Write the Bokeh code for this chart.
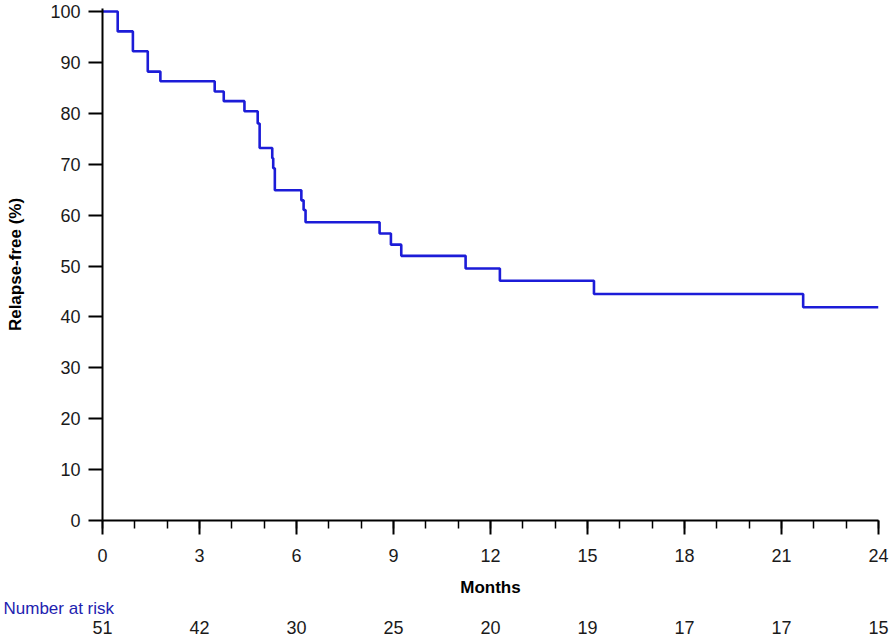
from bokeh.plotting import figure
from bokeh.models import (SingleIntervalTicker, FixedTicker, LinearAxis,
                          Range1d, Title)
from bokeh.embed import file_html
from bokeh.resources import INLINE

# Kaplan-Meier relapse-free estimates (months, % relapse-free after each step)
event_months = [0.0, 0.47, 0.94, 1.40, 1.79, 3.47, 3.75, 4.39, 4.80, 4.86,
                5.25, 5.28, 5.33, 6.15, 6.22, 6.28, 8.57, 8.92, 9.24,
                11.23, 12.29, 15.20, 21.67]
relapse_free = [100.0, 96.1, 92.2, 88.2, 86.3, 84.3, 82.4, 80.4, 78.0, 73.2,
                71.2, 69.2, 64.9, 62.9, 61.0, 58.6, 56.4, 54.2, 52.0,
                49.5, 47.1, 44.5, 41.9]
last_follow_up = 24.0

risk_months = [0, 3, 6, 9, 12, 15, 18, 21, 24]
risk_counts = [51, 42, 30, 25, 20, 19, 17, 17, 15]

FONT = "Liberation Sans"
CURVE = "#1c1cd8"

p = figure(width=890, height=636, output_backend="svg", toolbar_location=None,
           x_range=Range1d(0, 24), y_range=Range1d(0, 100.6),
           min_border_left=102, min_border_right=12, min_border_top=8,
           min_border_bottom=20)
p.outline_line_color = None
p.xgrid.visible = False
p.ygrid.visible = False
p.background_fill_color = "white"

xs = event_months + [last_follow_up]
ys = relapse_free + [relapse_free[-1]]
p.step(xs, ys, mode="after", line_color=CURVE, line_width=2.6)

# axes
xa = p.xaxis[0]
xa.ticker = SingleIntervalTicker(interval=3, num_minor_ticks=3)
xa.axis_label = "Months"
ya = p.yaxis[0]
ya.ticker = SingleIntervalTicker(interval=10, num_minor_ticks=0)
ya.axis_label = "Relapse-free (%)"

for ax in (xa, ya):
    ax.axis_line_color = "black"
    ax.axis_line_width = 2
    ax.major_tick_line_color = "black"
    ax.major_tick_line_width = 2
    ax.minor_tick_line_color = "black"
    ax.minor_tick_line_width = 1.5
    ax.major_tick_in = 0
    ax.minor_tick_in = 0
    ax.major_tick_out = 14
    ax.major_label_text_font = FONT
    ax.major_label_text_font_size = "18px"
    ax.major_label_text_color = "#1a1a1a"
    ax.axis_label_text_font = FONT
    ax.axis_label_text_font_style = "bold"
    ax.axis_label_text_font_size = "17px"
    ax.axis_label_text_color = "black"

xa.minor_tick_out = 8
xa.major_label_standoff = 14
xa.axis_label_standoff = 13
xa.axis_label_text_line_height = 1.0
ya.minor_tick_out = 0
ya.major_label_standoff = 8
ya.axis_label_standoff = 22

# number at risk table
nar_title = Title(text="Number at risk", align="left", offset=-99,
                  text_font=FONT, text_font_size="17px",
                  text_font_style="normal", text_color="#2222b0",
                  text_line_height=1.0, standoff=-5)
risk_axis = LinearAxis(ticker=FixedTicker(ticks=risk_months),
                       major_label_overrides={m: str(n) for m, n in zip(risk_months, risk_counts)},
                       axis_line_color=None, major_tick_line_color=None,
                       minor_tick_line_color=None, major_tick_out=0,
                       major_tick_in=0, major_label_standoff=5,
                       major_label_text_font=FONT,
                       major_label_text_font_size="18px",
                       major_label_text_line_height=1.0,
                       major_label_text_color="#1a1a1a")
p.below = [xa, nar_title, risk_axis]

open("out.html", "w").write(file_html(p, INLINE))
